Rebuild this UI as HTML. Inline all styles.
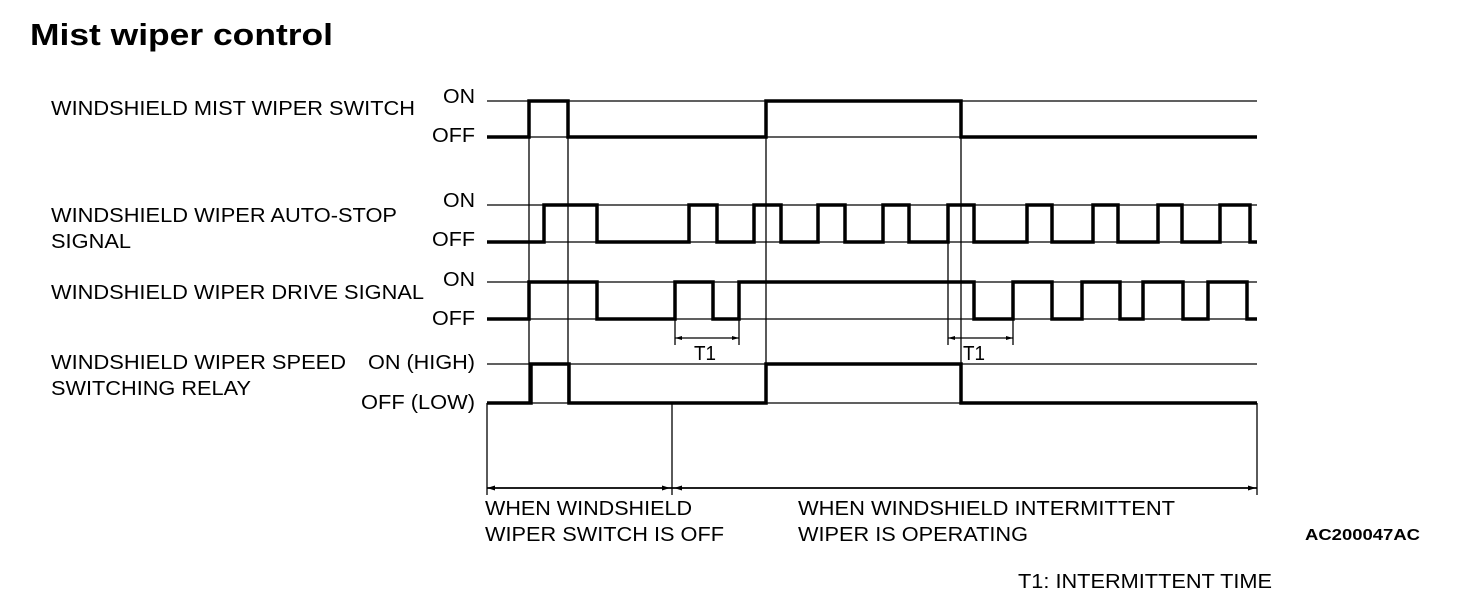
<!DOCTYPE html>
<html><head><meta charset="utf-8"><style>
html,body{margin:0;padding:0;background:#fff;}
svg{display:block;}
text{font-family:"Liberation Sans",sans-serif;fill:#000;}
</style></head><body>
<svg width="1472" height="602" viewBox="0 0 1472 602" xmlns="http://www.w3.org/2000/svg">
<text x="30" y="45" font-size="31" font-weight="bold" textLength="303" lengthAdjust="spacingAndGlyphs">Mist wiper control</text>
<g font-size="20" lengthAdjust="spacingAndGlyphs">
<text x="51" y="115" textLength="364" lengthAdjust="spacingAndGlyphs">WINDSHIELD MIST WIPER SWITCH</text>
<text x="51" y="222" textLength="346" lengthAdjust="spacingAndGlyphs">WINDSHIELD WIPER AUTO-STOP</text>
<text x="51" y="248" textLength="80" lengthAdjust="spacingAndGlyphs">SIGNAL</text>
<text x="51" y="299" textLength="373" lengthAdjust="spacingAndGlyphs">WINDSHIELD WIPER DRIVE SIGNAL</text>
<text x="51" y="369" textLength="295" lengthAdjust="spacingAndGlyphs">WINDSHIELD WIPER SPEED</text>
<text x="51" y="395" textLength="200" lengthAdjust="spacingAndGlyphs">SWITCHING RELAY</text>
<text x="443" y="103" textLength="32" lengthAdjust="spacingAndGlyphs">ON</text><text x="432" y="142" textLength="43" lengthAdjust="spacingAndGlyphs">OFF</text>
<text x="443" y="207" textLength="32" lengthAdjust="spacingAndGlyphs">ON</text><text x="432" y="246" textLength="43" lengthAdjust="spacingAndGlyphs">OFF</text>
<text x="443" y="286" textLength="32" lengthAdjust="spacingAndGlyphs">ON</text><text x="432" y="325" textLength="43" lengthAdjust="spacingAndGlyphs">OFF</text>
<text x="368" y="369" textLength="107" lengthAdjust="spacingAndGlyphs">ON (HIGH)</text><text x="361" y="409" textLength="114" lengthAdjust="spacingAndGlyphs">OFF (LOW)</text>
<text x="694" y="360" textLength="22" lengthAdjust="spacingAndGlyphs">T1</text>
<text x="963" y="360" textLength="22" lengthAdjust="spacingAndGlyphs">T1</text>
<text x="485" y="515" textLength="207" lengthAdjust="spacingAndGlyphs">WHEN WINDSHIELD</text>
<text x="485" y="541" textLength="239" lengthAdjust="spacingAndGlyphs">WIPER SWITCH IS OFF</text>
<text x="798" y="515" textLength="377" lengthAdjust="spacingAndGlyphs">WHEN WINDSHIELD INTERMITTENT</text>
<text x="798" y="541" textLength="230" lengthAdjust="spacingAndGlyphs">WIPER IS OPERATING</text>
<text x="1018" y="588" textLength="254" lengthAdjust="spacingAndGlyphs">T1: INTERMITTENT TIME</text>
</g>
<text x="1305" y="540" font-size="16" font-weight="bold" textLength="115" lengthAdjust="spacingAndGlyphs">AC200047AC</text>

<g stroke="#000" stroke-width="1.3" fill="none">
<line x1="487" y1="101" x2="1257" y2="101"/><line x1="487" y1="137" x2="1257" y2="137"/>
<line x1="487" y1="205" x2="1257" y2="205"/><line x1="487" y1="242" x2="1257" y2="242"/>
<line x1="487" y1="282" x2="1257" y2="282"/><line x1="487" y1="319" x2="1257" y2="319"/>
<line x1="487" y1="364" x2="1257" y2="364"/><line x1="487" y1="403" x2="1257" y2="403"/>
<line x1="529" y1="101" x2="529" y2="403"/>
<line x1="568" y1="101" x2="568" y2="403"/>
<line x1="766" y1="101" x2="766" y2="403"/>
<line x1="961" y1="101" x2="961" y2="403"/>
<line x1="948" y1="205" x2="948" y2="345"/>
<line x1="675" y1="319" x2="675" y2="345"/>
<line x1="739" y1="319" x2="739" y2="345"/>
<line x1="1013" y1="319" x2="1013" y2="345"/>
<line x1="675" y1="338" x2="739" y2="338"/>
<line x1="948" y1="338" x2="1013" y2="338"/>
<line x1="487" y1="403" x2="487" y2="495"/>
<line x1="672" y1="403" x2="672" y2="495"/>
<line x1="1257" y1="403" x2="1257" y2="495"/>
<line x1="487" y1="488" x2="1257" y2="488" stroke-width="1.8"/>
</g>
<g fill="#000">
<polygon points="487,488 495,485.5 495,490.5"/>
<polygon points="670,488 662,485.5 662,490.5"/>
<polygon points="674,488 682,485.5 682,490.5"/>
<polygon points="1256,488 1248,485.5 1248,490.5"/>
<polygon points="675,338 682,336 682,340"/>
<polygon points="739,338 732,336 732,340"/>
<polygon points="948,338 955,336 955,340"/>
<polygon points="1013,338 1006,336 1006,340"/>
</g>

<g stroke="#000" stroke-width="3.5" fill="none" stroke-linejoin="miter">
<polyline points="487,137 529,137 529,101 568,101 568,137 766,137 766,101 961,101 961,137 1257,137"/>
<polyline points="487,242 544,242 544,205 597,205 597,242 689,242 689,205 717,205 717,242 754,242 754,205 781,205 781,242 818,242 818,205 845,205 845,242 883,242 883,205 909,205 909,242 948,242 948,205 974,205 974,242 1027,242 1027,205 1052,205 1052,242 1093,242 1093,205 1118,205 1118,242 1158,242 1158,205 1182,205 1182,242 1220,242 1220,205 1250,205 1250,242 1257,242"/>
<polyline points="487,319 529,319 529,282 597,282 597,319 675,319 675,282 713,282 713,319 739,319 739,282 974,282 974,319 1013,319 1013,282 1052,282 1052,319 1082,319 1082,282 1120,282 1120,319 1143,319 1143,282 1183,282 1183,319 1208,319 1208,282 1247,282 1247,319 1257,319"/>
<polyline points="487,403 531,403 531,364 569,364 569,403 766,403 766,364 961,364 961,403 1257,403"/>
</g>
</svg>
</body></html>
